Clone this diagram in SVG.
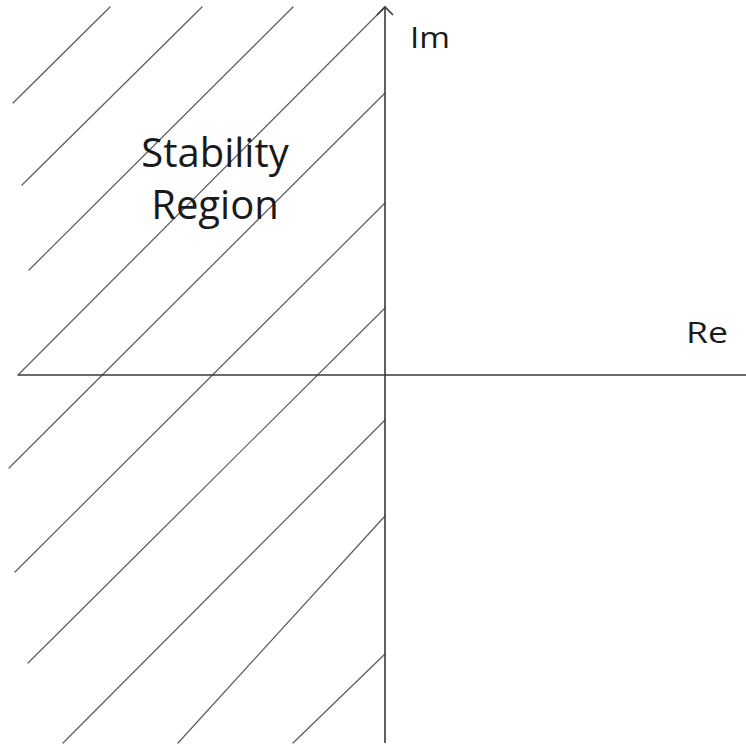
<svg xmlns="http://www.w3.org/2000/svg" width="746" height="747" viewBox="0 0 746 747">
<style>
.hatch{stroke:#5a5a5a;stroke-width:1.2;fill:none;stroke-linecap:round}
.axis{stroke:#3a3a3a;stroke-width:1.6;fill:none}
.lbl{font-family:"Open Sans","Noto Sans","Liberation Sans",sans-serif;fill:#1a1a1a}
</style>
<rect width="746" height="747" fill="#ffffff"/>
<g id="hatching">
<line class="hatch" x1="13" y1="103" x2="110" y2="7"/>
<line class="hatch" x1="22" y1="185" x2="202" y2="7"/>
<line class="hatch" x1="29" y1="270" x2="293" y2="7"/>
<line class="hatch" x1="18" y1="375" x2="385" y2="7"/>
<line class="hatch" x1="9" y1="468" x2="385" y2="93"/>
<line class="hatch" x1="15" y1="572" x2="385" y2="203"/>
<line class="hatch" x1="28" y1="663" x2="385" y2="308"/>
<line class="hatch" x1="63" y1="743" x2="385" y2="420"/>
<line class="hatch" x1="178" y1="743" x2="385" y2="516"/>
<line class="hatch" x1="293" y1="743" x2="385" y2="654"/>
</g>
<g id="axes">
<line id="im-axis" class="axis" x1="385" y1="743" x2="385" y2="7"/>
<polyline class="axis" points="377,15 385,7 393,15"/>
<line id="re-axis" class="axis" x1="18" y1="375" x2="746" y2="375"/>
</g>
<g id="label-im"><text class="lbl" x="410" y="48" font-size="30" textLength="40" lengthAdjust="spacingAndGlyphs">Im</text></g>
<g id="label-re"><text class="lbl" x="686" y="343" font-size="30" textLength="42" lengthAdjust="spacingAndGlyphs">Re</text></g>
<g id="label-stability"><text class="lbl" x="215" y="167" font-size="40" text-anchor="middle">Stability</text><text class="lbl" x="215" y="219" font-size="40" text-anchor="middle">Region</text></g>
</svg>
